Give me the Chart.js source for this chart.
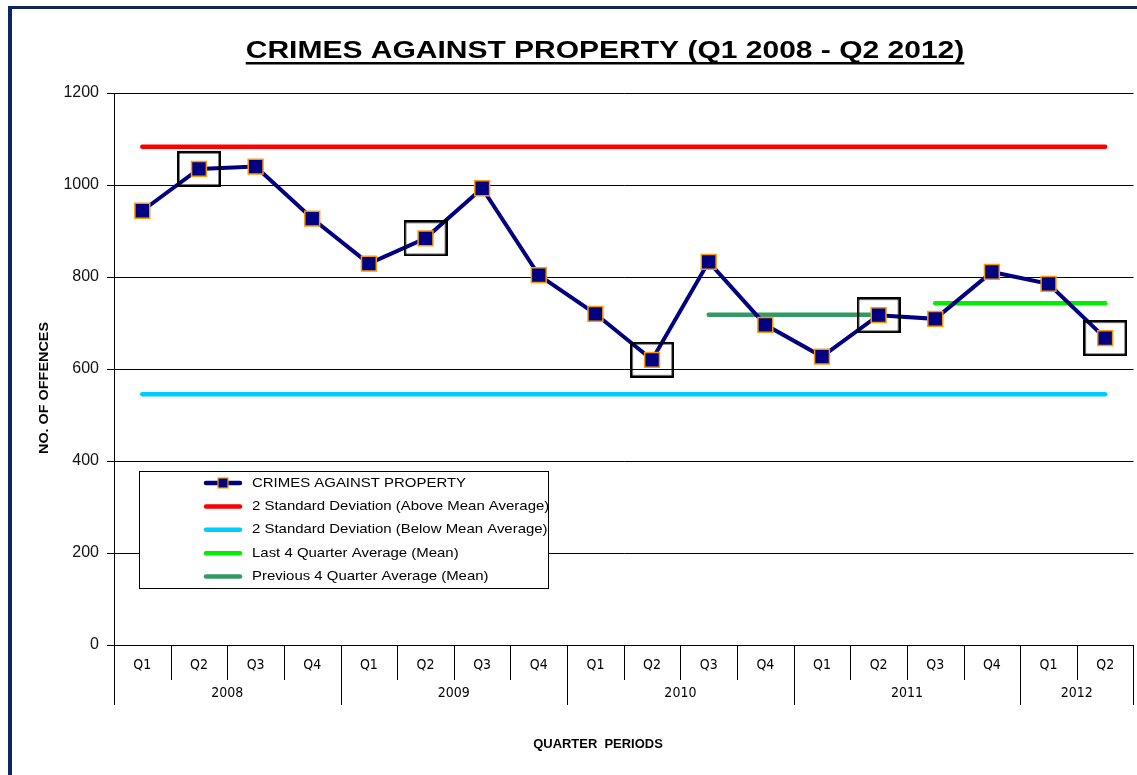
<!DOCTYPE html>
<html>
<head>
<meta charset="utf-8">
<script src="https://cdn.jsdelivr.net/npm/chart.js@4/dist/chart.umd.min.js"></script>
<style>
  html, body { margin: 0; padding: 0; background: #ffffff; overflow: hidden; }
  #wrap { position: absolute; left: 0; top: 0; width: 1137px; height: 775px; }
</style>
</head>
<body>
<div id="wrap"><canvas id="c" width="1137" height="775"></canvas></div>
<script>
// ---------- DATA ----------
const quarterLabels = ['Q1','Q2','Q3','Q4','Q1','Q2','Q3','Q4','Q1','Q2','Q3','Q4','Q1','Q2','Q3','Q4','Q1','Q2'];
const yearLabels = ['2008','2008','2008','2008','2009','2009','2009','2009','2010','2010','2010','2010','2011','2011','2011','2011','2012','2012'];
const crimes = [944, 1035, 1040, 927, 829, 884, 993, 804, 720, 620, 833, 696, 627, 717, 709, 811, 785, 667];
const upper2SD = [1083,1083,1083,1083,1083,1083,1083,1083,1083,1083,1083,1083,1083,1083,1083,1083,1083,1083];
const lower2SD = [545,545,545,545,545,545,545,545,545,545,545,545,545,545,545,545,545,545];
const prev4QAvg = [null,null,null,null,null,null,null,null,null,null,718,718,718,718,null,null,null,null];
const last4QAvg = [null,null,null,null,null,null,null,null,null,null,null,null,null,null,743,743,743,743];
const highlightIdx = [1, 5, 9, 13, 17];
const highlighted = crimes.map((v, i) => highlightIdx.includes(i) ? v : null);
const yTicks = [0, 200, 400, 600, 800, 1000, 1200];

const titleText = 'CRIMES AGAINST PROPERTY (Q1 2008 - Q2 2012)';
const yTitle = 'NO. OF OFFENCES';
const xTitle = 'QUARTER  PERIODS';

// ---------- STYLES ----------
const NAVY = '#000080';
const ORANGE = '#FF9900';
const FONT = "'Liberation Sans', Arial, sans-serif";
const NARROW = "'Liberation Sans Narrow', 'Arial Narrow', 'DejaVu Sans Condensed', Arial, sans-serif";

// highlight box point style
const boxImg = document.createElement('canvas');
boxImg.width = 44; boxImg.height = 36;
(function(){
  const g = boxImg.getContext('2d');
  g.strokeStyle = '#000';
  g.lineWidth = 2.5;
  g.strokeRect(1.25, 1.25, 41.5, 33.5);
})();

function stretchText(ctx, text, x, y, sx) {
  ctx.save();
  ctx.translate(x, y);
  ctx.scale(sx, 1);
  ctx.fillText(text, 0, 0);
  ctx.restore();
}

const decorPlugin = {
  id: 'decor',
  beforeDraw(chart) {
    const ctx = chart.ctx;
    ctx.save();
    ctx.fillStyle = '#ffffff';
    ctx.fillRect(0, 0, chart.width, chart.height);
    ctx.fillStyle = '#0c2565';
    ctx.fillRect(8, 6, 4, chart.height);
    ctx.fillRect(8, 6, chart.width, 3);
    ctx.restore();
  },
  afterDraw(chart) {
    const ctx = chart.ctx;
    const xs = chart.scales.x;
    const area = chart.chartArea;
    ctx.save();
    // Title
    ctx.font = "bold 24px " + FONT;
    ctx.fillStyle = '#000';
    ctx.textAlign = 'center';
    ctx.textBaseline = 'alphabetic';
    const tsx = 1.25, tx = 605, ty = 58;
    stretchText(ctx, titleText, tx, ty, tsx);
    const tw = ctx.measureText(titleText).width * tsx;
    ctx.fillRect(tx - tw / 2, 62, tw, 2.5);

    // x-axis dividers and year labels
    const n = quarterLabels.length;
    const w = (xs.getPixelForValue(1) - xs.getPixelForValue(0));
    const x0 = xs.getPixelForValue(0) - w / 2;
    ctx.strokeStyle = '#000';
    ctx.lineWidth = 1;
    for (let i = 0; i <= n; i++) {
      const isYear = (i === 0 || i === n || yearLabels[i] !== yearLabels[i - 1]);
      const x = Math.round(x0 + i * w) + 0.5;
      ctx.beginPath();
      ctx.moveTo(x, area.bottom);
      ctx.lineTo(x, area.bottom + (isYear ? 60 : 35));
      ctx.stroke();
    }
    ctx.font = "14px " + NARROW;
    ctx.textBaseline = 'middle';
    let start = 0;
    for (let i = 1; i <= n; i++) {
      if (i === n || yearLabels[i] !== yearLabels[start]) {
        const cx = x0 + (start + i) / 2 * w;
        ctx.fillText(yearLabels[start], cx, area.bottom + 48);
        start = i;
      }
    }

    // axis titles
    ctx.font = "bold 12px " + FONT;
    ctx.textAlign = 'center';
    stretchText(ctx, xTitle, 598, 745, 1.08);
    ctx.save();
    ctx.translate(45, 388);
    ctx.rotate(-Math.PI / 2);
    ctx.scale(1.2, 1);
    ctx.fillText(yTitle, 0, 0);
    ctx.restore();

    // Legend
    const lx = 139.5, ly = 471.5, lw = 409, lh = 117;
    ctx.fillStyle = '#fff';
    ctx.fillRect(lx, ly, lw, lh);
    ctx.strokeStyle = '#000';
    ctx.lineWidth = 1;
    ctx.strokeRect(lx, ly, lw, lh);
    const items = chart.data.datasets.filter(d => d.inLegend);
    items.forEach((d, k) => {
      const y = 483 + k * 23.4;
      ctx.strokeStyle = d.borderColor;
      ctx.lineWidth = 4.5;
      ctx.lineCap = 'round';
      ctx.beginPath();
      ctx.moveTo(206, y);
      ctx.lineTo(240, y);
      ctx.stroke();
      if (d.pointRadius > 0) {
        ctx.fillStyle = d.pointBackgroundColor;
        ctx.strokeStyle = d.pointBorderColor;
        ctx.lineWidth = 1.2;
        ctx.fillRect(218, y - 5, 10, 10);
        ctx.strokeRect(218, y - 5, 10, 10);
      }
      ctx.fillStyle = '#000';
      ctx.font = "13px " + FONT;
      ctx.textAlign = 'left';
      ctx.textBaseline = 'middle';
      stretchText(ctx, d.label, 252, y, 1.15);
    });
    ctx.restore();
  }
};

new Chart(document.getElementById('c'), {
  type: 'line',
  data: {
    labels: quarterLabels,
    datasets: [
      {
        label: 'CRIMES AGAINST PROPERTY',
        data: crimes,
        inLegend: true,
        borderColor: NAVY,
        borderWidth: 4,
        pointStyle: 'rect',
        pointRadius: 10.5,
        pointBackgroundColor: NAVY,
        pointBorderColor: ORANGE,
        pointBorderWidth: 1.5,
        tension: 0,
        order: 1
      },
      {
        label: '2 Standard Deviation (Above Mean Average)',
        data: upper2SD,
        inLegend: true,
        borderColor: '#FF0000',
        borderWidth: 4.5,
        borderCapStyle: 'round',
        pointRadius: 0,
        order: 3
      },
      {
        label: '2 Standard Deviation (Below Mean Average)',
        data: lower2SD,
        inLegend: true,
        borderColor: '#00CCFF',
        borderWidth: 4.5,
        borderCapStyle: 'round',
        pointRadius: 0,
        order: 3
      },
      {
        label: 'Last 4 Quarter Average (Mean)',
        data: last4QAvg,
        inLegend: true,
        borderColor: '#00EE00',
        borderWidth: 4.5,
        borderCapStyle: 'round',
        pointRadius: 0,
        order: 2
      },
      {
        label: 'Previous 4 Quarter Average (Mean)',
        data: prev4QAvg,
        inLegend: true,
        borderColor: '#339966',
        borderWidth: 4.5,
        borderCapStyle: 'round',
        pointRadius: 0,
        order: 2
      },
      {
        label: 'highlight',
        data: highlighted,
        inLegend: false,
        showLine: false,
        pointStyle: boxImg,
        pointRadius: 20,
        borderColor: '#000',
        order: 0
      }
    ]
  },
  options: {
    responsive: false,
    animation: false,
    events: [],
    layout: { autoPadding: false, padding: { top: 93, right: 3.5, bottom: 0, left: 0 } },
    plugins: {
      legend: { display: false },
      title: { display: false },
      tooltip: { enabled: false }
    },
    scales: {
      x: {
        type: 'category',
        offset: true,
        grid: { display: false, offset: true },
        border: { display: true, color: '#000', width: 1 },
        ticks: {
          autoSkip: false,
          maxRotation: 0,
          padding: 4,
          color: '#000',
          font: { family: NARROW, size: 14 }
        },
        afterFit(scale) {
          scale.height = 130;
          scale.paddingLeft = 0;
          scale.paddingRight = 0;
        }
      },
      y: {
        min: 0,
        max: 1200,
        afterBuildTicks(scale) { scale.ticks = yTicks.map(v => ({ value: v })); },
        grid: { color: '#000', lineWidth: 1, tickLength: 7 },
        border: { display: true, color: '#000', width: 1 },
        ticks: {
          padding: 8,
          color: '#111',
          font: { family: FONT, size: 16 },
          callback: (v) => String(v)
        },
        afterFit(scale) {
          scale.width = 114;
          scale.paddingTop = 0;
          scale.paddingBottom = 0;
        }
      }
    }
  },
  plugins: [decorPlugin]
});
</script>
</body>
</html>
